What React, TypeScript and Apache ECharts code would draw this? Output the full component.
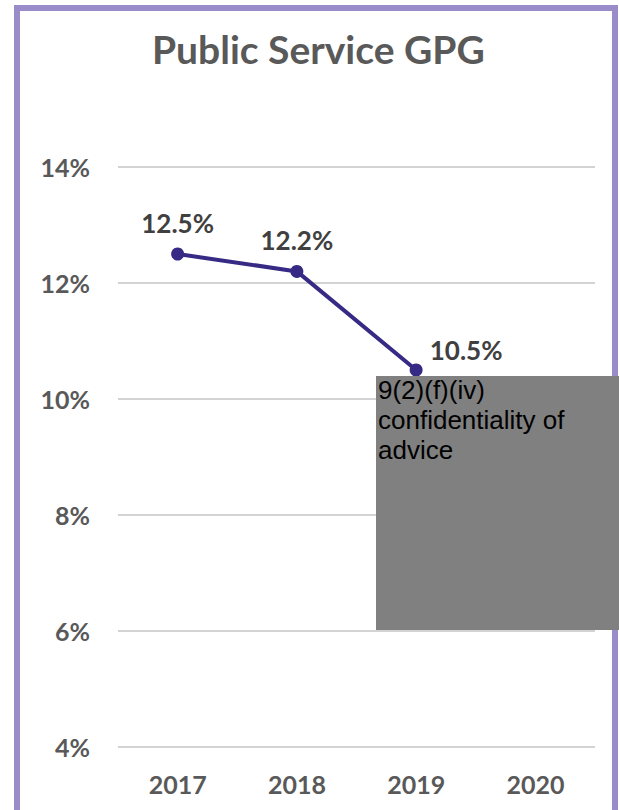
import React, { useEffect, useRef } from "react";
import * as echarts from "echarts";

const years = ["2017", "2018", "2019", "2020"];
const gpgValues: (number | null)[] = [12.5, 12.2, 10.5, null];
const yTicks = { min: 4, max: 14, interval: 2 };
const titleText = "Public Service GPG";
const redactionText = "9(2)(f)(iv)\nconfidentiality of\nadvice";

export default function App() {
  const ref = useRef<HTMLDivElement>(null);
  useEffect(() => {
    if (!ref.current) return;
    const chart = echarts.init(ref.current, null, { renderer: "svg" });
    const labelFont = {
      fontFamily: "Lato",
      fontWeight: "bold" as const,
      fontSize: 25,
    };
    chart.setOption({
      animation: false,
      backgroundColor: "#ffffff",
      title: {
        text: titleText,
        left: 147,
        top: 24,
        textStyle: {
          fontFamily: "Lato",
          fontWeight: "bold",
          fontSize: 39,
          color: "#595959",
        },
      },
      grid: { left: 118, right: 24, top: 167, bottom: 63 },
      xAxis: {
        type: "category",
        data: years,
        boundaryGap: true,
        axisLine: { show: false },
        axisTick: { show: false },
        axisLabel: { ...labelFont, color: "#595959", margin: 24 },
      },
      yAxis: {
        type: "value",
        min: yTicks.min,
        max: yTicks.max,
        interval: yTicks.interval,
        axisLine: { show: false },
        axisTick: { show: false },
        axisLabel: {
          ...labelFont,
          color: "#595959",
          margin: 28,
          formatter: "{value}%",
        },
        splitLine: { lineStyle: { color: "#c4c4c4", width: 1.5 } },
      },
      series: [
        {
          type: "line",
          data: gpgValues.map((v, i) =>
            i === 2
              ? {
                  value: v,
                  label: { position: "top", distance: 1, offset: [50, 0] },
                }
              : v
          ),
          symbol: "circle",
          symbolSize: 13,
          lineStyle: { color: "#372a85", width: 4 },
          itemStyle: { color: "#372a85" },
          label: {
            show: true,
            position: "top",
            distance: 12,
            ...labelFont,
            fontSize: 26,
            color: "#404040",
            formatter: (p: any) => `${p.value}%`,
          },
        },
      ],
      graphic: [
        {
          type: "rect",
          shape: { x: 17, y: 8, width: 598, height: 830 },
          style: { fill: "none", stroke: "#9a8cc8", lineWidth: 6 },
          silent: true,
          z: 100,
        },
        {
          type: "rect",
          shape: { x: 376, y: 376, width: 243, height: 254 },
          style: { fill: "#808080" },
          z: 101,
        },
        {
          type: "text",
          x: 378,
          y: 375,
          z: 102,
          style: {
            text: redactionText,
            fill: "#000000",
            font: "26px 'Liberation Sans', Arial, sans-serif",
            lineHeight: 30,
          },
        },
      ],
    });
    return () => chart.dispose();
  }, []);
  return (
    <div
      ref={ref}
      style={{ position: "fixed", left: 0, top: 0, width: 619, height: 810 }}
    />
  );
}
